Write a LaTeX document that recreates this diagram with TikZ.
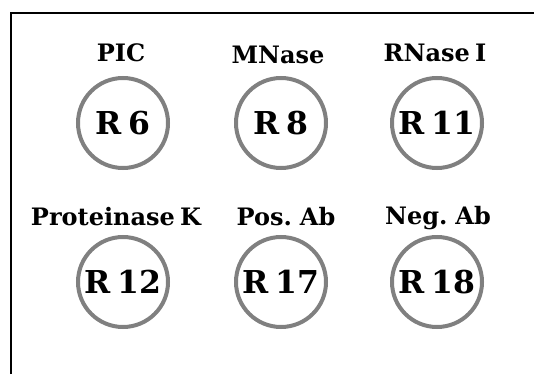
\documentclass[tikz,border=0pt]{standalone}
\usepackage{fontspec}
\setmainfont{DejaVu Serif}[WordSpace=0.63]
\usepackage{xcolor}
\usepackage{tikz}
\usetikzlibrary{positioning}
\definecolor{ringgray}{RGB}{128,128,128}

\begin{document}
\begin{tikzpicture}[x=1pt,y=-1pt,
    ring/.style={draw=ringgray, line width=4pt, circle, minimum size=90pt, inner sep=0pt,
                 font=\fontsize{31.5}{34}\selectfont\bfseries},
    tag/.style={anchor=base, font=\fontsize{24}{26}\selectfont\bfseries}]
    \useasboundingbox (0,0) rectangle (534,374);

    % Frame (top and left only)
    \draw[line width=2pt] (11,374) -- (11,13) -- (534,13);

    % Top row
    \node[ring] (r6)  at (123,123) {R 6};
    \node[ring] (r8)  at (281,123) {R 8};
    \node[ring] (r11) at (437,123) {R 11};

    \node[tag] (pic)   at (121,62) {PIC};
    \node[tag] (mnase) at (278,64) {MNase};
    \node[tag] (rnase) at (435,62) {RNase I};

    % Bottom row
    \node[ring] (r12) at (123,282) {R 12};
    \node[ring] (r17) at (281,282) {R 17};
    \node[ring] (r18) at (437,282) {R 18};

    \node[tag] (protk) at (116,225) {Proteinase K};
    \node[tag] (posab) at (286,225) {Pos. Ab};
    \node[tag] (negab) at (438,224) {Neg. Ab};
\end{tikzpicture}
\end{document}
